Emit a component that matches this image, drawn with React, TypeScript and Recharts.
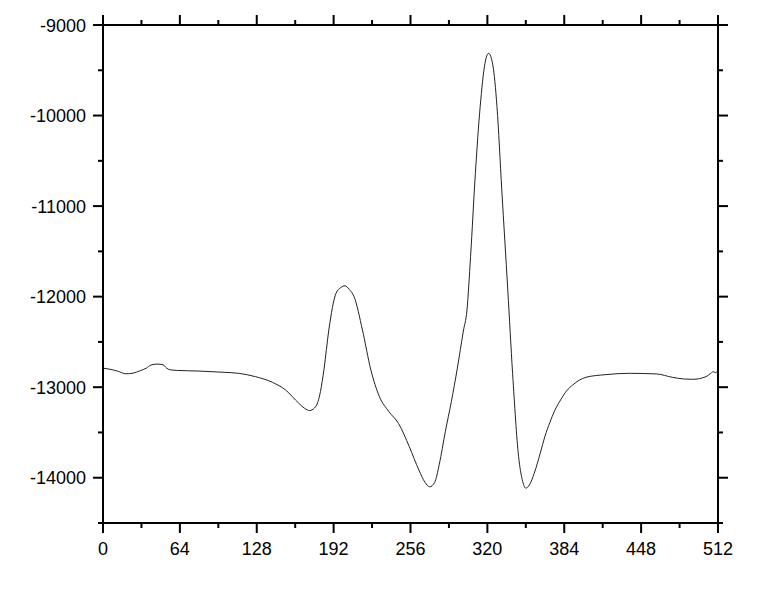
import { LineChart, Line, XAxis, YAxis } from 'recharts';

// sample index / signal value
const xs = [
  0, 5, 12, 19, 25, 31, 36, 40, 45, 50, 53, 56, 62, 80, 100, 113, 127, 141, 152, 163,
  168, 172, 176, 179, 181, 184, 188, 194, 198, 201.5, 205, 209, 216, 223, 230, 238, 246, 255, 263, 268,
  272, 276, 280, 285, 290, 295, 300, 303, 306, 310, 314, 318, 321, 324.5, 328, 332, 337, 341, 346, 349,
  352, 355, 359, 364, 368, 372, 376, 381, 386, 391, 402, 418, 438, 461, 474, 484, 491, 502, 506, 508, 510, 512,
];
const ys = [
  -12790, -12800, -12822, -12852, -12845, -12818, -12790, -12755, -12745, -12752, -12790, -12808, -12815, -12822, -12835, -12847, -12884, -12946, -13031, -13178,
  -13235, -13258, -13230, -13160, -13050, -12800, -12368, -11963, -11900, -11880, -11920, -12000, -12368, -12810, -13100, -13270, -13400, -13657, -13915, -14050,
  -14100, -14055, -13850, -13490, -13160, -12790, -12380, -12150, -11560, -10638, -9902, -9423, -9313, -9440, -9902, -10822, -11927, -12847, -13768, -14020,
  -14115, -14080, -13951, -13730, -13540, -13390, -13260, -13140, -13040, -12976, -12891, -12862, -12847, -12854, -12891, -12910, -12913, -12884, -12847, -12829, -12840, -12815,
];

const xTicks = [0, 32, 64, 96, 128, 160, 192, 224, 256, 288, 320, 352, 384, 416, 448, 480, 512];
const yTicks = [-14500, -14000, -13500, -13000, -12500, -12000, -11500, -11000, -10500, -10000, -9500, -9000];

const data = xs.map((x, i) => ({ x, y: ys[i] }));

const FONT = '"Liberation Sans", Arial, sans-serif';
const MAJOR = 10;
const MINOR = 5;

function BottomTick({ x, y, payload }: any) {
  const major = payload.value % 64 === 0;
  return (
    <g>
      <line x1={x} y1={y} x2={x} y2={y + (major ? MAJOR : MINOR)} stroke="#000" strokeWidth={2} />
      {major && (
        <text x={x} y={y + 32} textAnchor="middle" fontSize={18} fontFamily={FONT} fill="#000">
          {payload.value}
        </text>
      )}
    </g>
  );
}

function TopTick({ x, y, payload }: any) {
  const major = payload.value % 64 === 0;
  return <line x1={x} y1={y} x2={x} y2={y - (major ? MAJOR : MINOR)} stroke="#000" strokeWidth={2} />;
}

function LeftTick({ x, y, payload }: any) {
  const major = payload.value % 1000 === 0;
  return (
    <g>
      <line x1={x} y1={y} x2={x - (major ? MAJOR : MINOR)} y2={y} stroke="#000" strokeWidth={2} />
      {major && (
        <text x={x - 17} y={y + 6.5} textAnchor="end" fontSize={18} fontFamily={FONT} fill="#000">
          {payload.value}
        </text>
      )}
    </g>
  );
}

function RightTick({ x, y, payload }: any) {
  const major = payload.value % 1000 === 0;
  return <line x1={x} y1={y} x2={x + (major ? MAJOR : MINOR)} y2={y} stroke="#000" strokeWidth={2} />;
}

export default function App() {
  return (
    <div style={{ position: 'absolute', left: 0, top: 0, background: '#fff' }}>
      <LineChart width={776} height={594} data={data} margin={{ top: 15, right: 48, bottom: 41, left: 43 }}>
        <XAxis
          dataKey="x"
          type="number"
          domain={[0, 512]}
          ticks={xTicks}
          interval={0}
          height={30}
          tickSize={0}
          tickMargin={0}
          tickLine={false}
          axisLine={{ stroke: '#000', strokeWidth: 2 }}
          tick={BottomTick}
          allowDataOverflow
        />
        <XAxis
          xAxisId="top"
          orientation="top"
          dataKey="x"
          type="number"
          domain={[0, 512]}
          ticks={xTicks}
          interval={0}
          height={10}
          tickSize={0}
          tickMargin={0}
          tickLine={false}
          axisLine={{ stroke: '#000', strokeWidth: 2 }}
          tick={TopTick}
          allowDataOverflow
        />
        <YAxis
          type="number"
          domain={[-14500, -9000]}
          ticks={yTicks}
          interval={0}
          width={60}
          tickSize={0}
          tickMargin={0}
          tickLine={false}
          axisLine={{ stroke: '#000', strokeWidth: 2 }}
          tick={LeftTick}
          allowDataOverflow
        />
        <YAxis
          yAxisId="right"
          orientation="right"
          type="number"
          domain={[-14500, -9000]}
          ticks={yTicks}
          interval={0}
          width={10}
          tickSize={0}
          tickMargin={0}
          tickLine={false}
          axisLine={{ stroke: '#000', strokeWidth: 2 }}
          tick={RightTick}
          allowDataOverflow
        />
        <Line
          dataKey="y"
          type="monotone"
          stroke="#222"
          strokeWidth={1}
          dot={false}
          isAnimationActive={false}
        />
      </LineChart>
    </div>
  );
}
